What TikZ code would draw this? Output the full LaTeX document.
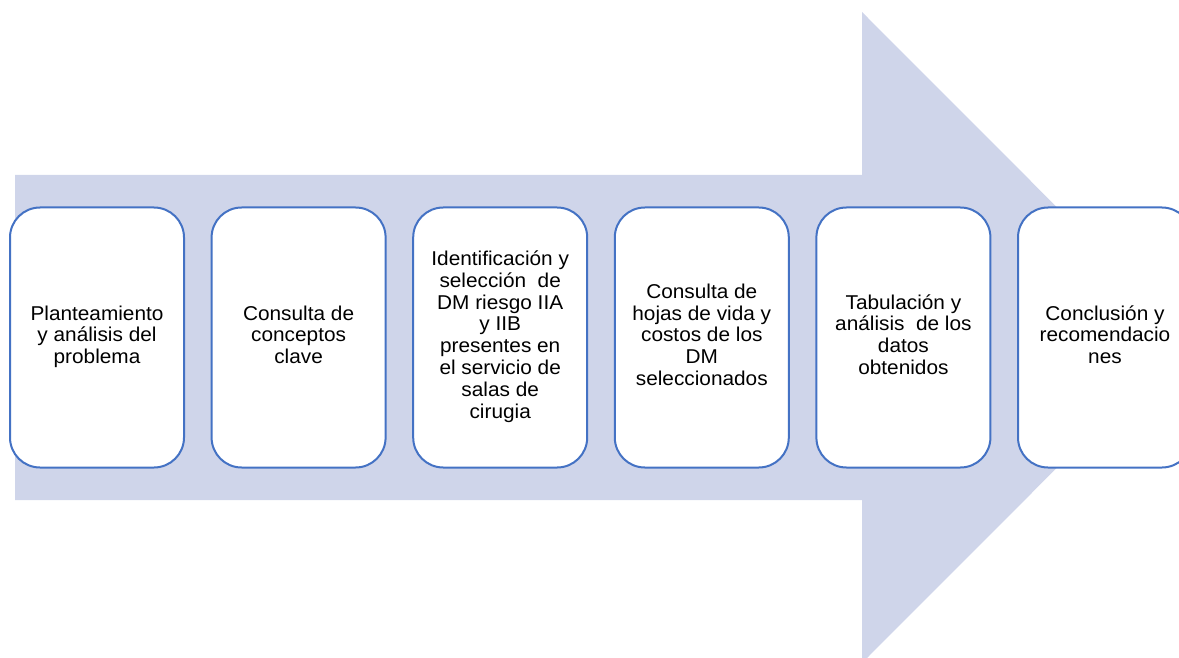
\documentclass[tikz,border=0pt]{standalone}
\usepackage{fontspec}
\setmainfont{Liberation Sans}
\definecolor{arrowfill}{RGB}{207,213,234}
\definecolor{boxline}{RGB}{68,114,196}
\definecolor{txt}{RGB}{0,0,0}
\newcommand{\stxt}[1]{\raisebox{-2.2pt}{\scalebox{1.04}[1]{\begin{tabular}{@{}c@{}}#1\end{tabular}}}}
\begin{document}
\begin{tikzpicture}[x=1pt,y=-1pt,
  stepbox/.style={draw=boxline, line width=2pt, fill=white, rounded corners=30pt,
    minimum width=174pt, minimum height=260pt, inner sep=0pt, align=center,
    text=txt, font=\fontsize{20}{21.8}\selectfont}]
\useasboundingbox (0,0) rectangle (1179,658);
\clip (0,0) rectangle (1179,658);
\fill[arrowfill] (15,175) -- (862,175) -- (862,12) -- (1187,337.5) -- (862,663) -- (862,500) -- (15,500) -- cycle;
\node[stepbox] (s1) at (97,337.5) {\stxt{Planteamiento\\y análisis del\\problema}};
\node[stepbox] (s2) at (298.6,337.5) {\stxt{Consulta de\\conceptos\\clave}};
\node[stepbox] (s3) at (500.2,337.5) {\stxt{Identificación y\\selección\ \ de\\DM riesgo IIA\\y IIB\\presentes en\\el servicio de\\salas de\\cirugia}};
\node[stepbox] (s4) at (701.8,337.5) {\stxt{Consulta de\\hojas de vida y\\costos de los\\DM\\seleccionados}};
\node[stepbox] (s5) at (903.4,337.5) {\stxt{Tabulación y\\análisis\ \ de los\\datos\\obtenidos}};
\node[stepbox] (s6) at (1105,337.5) {\stxt{Conclusión y\\recomendacio\\nes}};
\end{tikzpicture}
\end{document}
